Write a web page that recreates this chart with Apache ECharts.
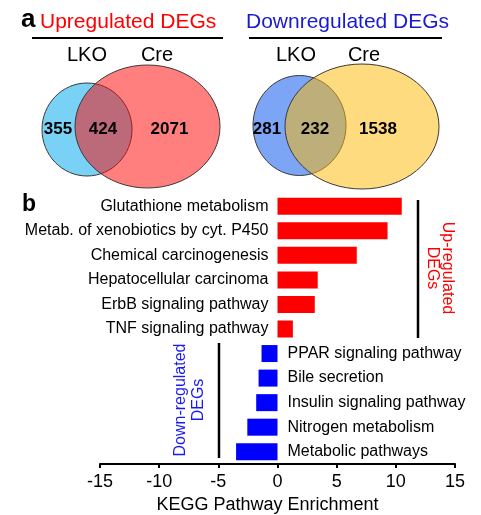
<!DOCTYPE html>
<html>
<head>
<meta charset="utf-8">
<script src="https://cdn.jsdelivr.net/npm/echarts@6/dist/echarts.min.js"></script>
<style>html,body{margin:0;padding:0;background:#fff}#c{width:481px;height:515px}</style>
</head>
<body>
<div id="c"></div>
<script>
var upCategories = ['Glutathione metabolism','Metab. of xenobiotics by cyt. P450','Chemical carcinogenesis','Hepatocellular carcinoma','ErbB signaling pathway','TNF signaling pathway'];
var upValues = [10.5, 9.3, 6.7, 3.4, 3.15, 1.3];
var downCategories = ['PPAR signaling pathway','Bile secretion','Insulin signaling pathway','Nitrogen metabolism','Metabolic pathways'];
var downValues = [-1.35, -1.6, -1.8, -2.55, -3.5];
var xTicks = [-15, -10, -5, 0, 5, 10, 15];
var vennUp = {lko: 355, both: 424, cre: 2071};
var vennDown = {lko: 281, both: 232, cre: 1538};

var F = 'Liberation Sans, Arial, sans-serif';
var categories = upCategories.concat(downCategories);
var barData = [];
upValues.forEach(function (v) {
  barData.push({value: v, itemStyle: {color: '#ff0000'},
    label: {show: true, position: 'left', distance: 9}});
});
downValues.forEach(function (v) {
  barData.push({value: v, itemStyle: {color: '#0000ff'},
    label: {show: true, position: 'right', distance: 10}});
});

function txt(x, y, t, size, color, opts) {
  opts = opts || {};
  return {type: 'text', x: x, y: y, rotation: opts.rot || 0, z: 10,
    style: {text: t, fill: color, font: (opts.bold ? 'bold ' : '') + size + 'px ' + F,
      align: opts.align || 'center', verticalAlign: 'middle', lineHeight: opts.lh || size}};
}
function line(x1, y1, x2, y2, w) {
  return {type: 'line', z: 10, shape: {x1: x1, y1: y1, x2: x2, y2: y2}, style: {stroke: '#000', lineWidth: w}};
}
function ell(cx, cy, rx, ry, fill) {
  return {type: 'ellipse', shape: {cx: cx, cy: cy, rx: rx, ry: ry}, style: {fill: fill, stroke: '#3a3a3a', lineWidth: 1}};
}

var graphics = [
  // Panel a titles
  txt(21, 20, 'a', 26, '#000', {bold: true, align: 'left'}),
  txt(40, 22.5, 'Upregulated DEGs', 21, '#ff0000', {align: 'left'}),
  txt(246, 22.5, 'Downregulated DEGs', 21, '#1a1ad0', {align: 'left'}),
  line(32, 38, 223, 38, 2),
  line(249, 38, 442, 38, 2),
  txt(87, 55, 'LKO', 20, '#000'),
  txt(157, 55, 'Cre', 20, '#000'),
  txt(296, 55, 'LKO', 20, '#000'),
  txt(364, 55, 'Cre', 20, '#000'),
  // Venn up
  ell(87, 129.5, 45, 46.5, '#79d2f5'),
  ell(147.5, 126.5, 72.5, 61.5, 'rgba(255,0,0,0.5)'),
  // Venn down
  ell(299.5, 125.5, 46.5, 50, '#7da5f5'),
  ell(362, 126.5, 77, 62.5, 'rgba(255,183,0,0.5)'),
  txt(58, 129, String(vennUp.lko), 17, '#000', {bold: true}),
  txt(103, 129, String(vennUp.both), 17, '#000', {bold: true}),
  txt(169.5, 129, String(vennUp.cre), 17, '#000', {bold: true}),
  txt(267, 129, String(vennDown.lko), 17, '#000', {bold: true}),
  txt(315, 129, String(vennDown.both), 17, '#000', {bold: true}),
  txt(378, 129, String(vennDown.cre), 17, '#000', {bold: true}),
  // Panel b
  txt(22, 205, 'b', 23, '#000', {bold: true, align: 'left'}),
  line(418, 200, 418, 338, 2.5),
  line(219, 343, 219, 458, 2.5),
  txt(440, 268, 'Up-regulated\nDEGs', 16, '#ff0000', {rot: -Math.PI / 2, lh: 15}),
  txt(190, 400, 'Down-regulated\nDEGs', 16, '#1a1af0', {rot: Math.PI / 2, lh: 18})
];

var chart = echarts.init(document.getElementById('c'), null, {renderer: 'canvas'});
chart.setOption({
  animation: false,
  backgroundColor: '#fff',
  textStyle: {fontFamily: F},
  grid: {left: 100, right: 26, top: 194, bottom: 51, containLabel: false, outerBoundsMode: 'none'},
  xAxis: {
    type: 'value', min: xTicks[0], max: xTicks[xTicks.length - 1], interval: 5,
    name: 'KEGG Pathway Enrichment', nameLocation: 'middle', nameGap: 31,
    nameTextStyle: {fontSize: 18, color: '#000', fontFamily: F, padding: [0, 20, 0, 0]},
    axisLine: {show: true, onZero: false, lineStyle: {color: '#000', width: 2}},
    axisTick: {show: true, length: 4, lineStyle: {color: '#000', width: 2}},
    axisLabel: {fontSize: 18, color: '#000', fontFamily: F, margin: 9},
    splitLine: {show: false}
  },
  yAxis: {type: 'category', data: categories, inverse: true, show: false},
  series: [{
    type: 'bar', data: barData, barWidth: 17,
    label: {formatter: '{b}', fontSize: 16, color: '#000', fontFamily: F}
  }],
  graphic: graphics
});
</script>
</body>
</html>
